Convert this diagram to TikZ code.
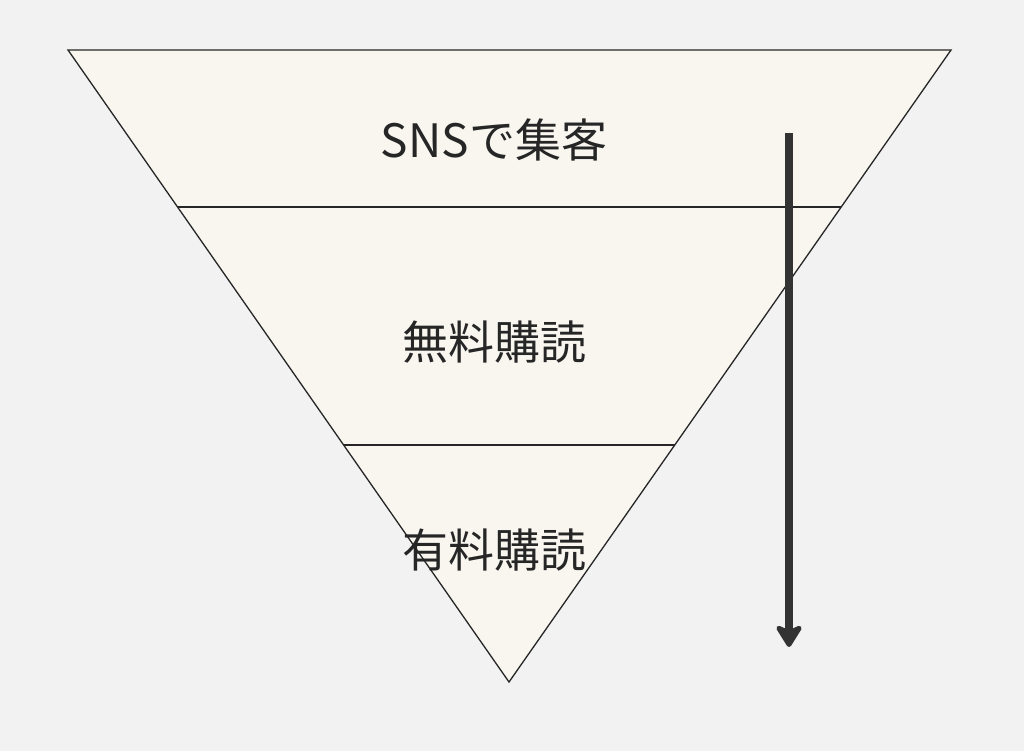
\documentclass[tikz,border=0pt]{standalone}
\usepackage{fontspec}
\setmainfont{Noto Sans CJK JP}
\usetikzlibrary{arrows.meta}
\definecolor{bg}{HTML}{F2F2F2}
\definecolor{funnel}{HTML}{F8F6EF}
\definecolor{arr}{HTML}{333333}
\tikzset{lab/.style={font=\fontsize{46pt}{52pt}\selectfont, text=black!85}}
\begin{document}
\begin{tikzpicture}[x=1pt,y=-1pt]
\fill[bg] (0,0) rectangle (1024,751);
\useasboundingbox (0,0) rectangle (1024,751);
\coordinate (tl) at (68,50);
\coordinate (tr) at (951,50);
\coordinate (bt) at (509,682);
\filldraw[fill=funnel, draw=black!85, line width=1.3pt] (tl) -- (tr) -- (bt) -- cycle;
\draw[black!85, line width=1.3pt] (177.5,207) -- (841,207);
\draw[black!85, line width=1.3pt] (344,445) -- (675,445);
\node[lab] (a) at (494,140) {SNSで集客};
\node[lab] (b) at (494,342) {無料購読};
\node[lab] (c) at (494,550) {有料購読};
\coordinate (s) at (789,133);
\coordinate (e) at (789,647);
\draw[arr, line width=7.5pt, -{Stealth[length=26pt,width=32pt,inset=7pt,round]}] (s) -- (e);
\end{tikzpicture}
\end{document}
